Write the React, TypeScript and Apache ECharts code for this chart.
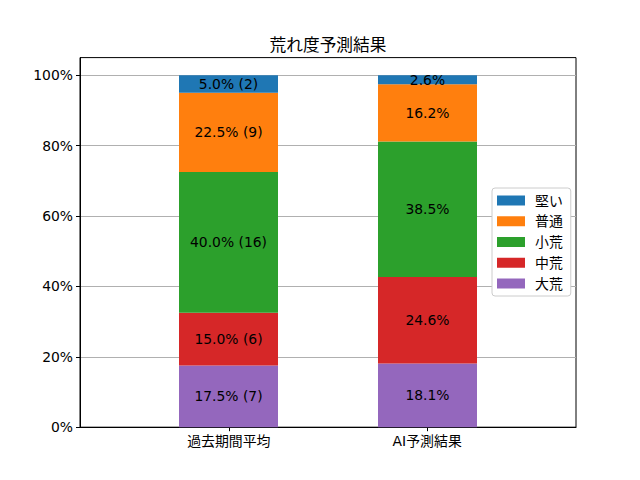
import React, { useEffect, useRef } from "react";
import * as echarts from "echarts";

const categories = ["過去期間平均", "AI予測結果"];
const levels = ["大荒", "中荒", "小荒", "普通", "堅い"];
const pastPct = [17.5, 15.0, 40.0, 22.5, 5.0];
const pastCount = [7, 6, 16, 9, 2];
const aiPct = [18.1, 24.6, 38.5, 16.2, 2.6];
const levelColors = ["#9467bd", "#d62728", "#2ca02c", "#ff7f0e", "#1f77b4"];
const yTicks = [0, 20, 40, 60, 80, 100];
const xTicks = [0, 1];

const FONT = "'DejaVu Sans', 'Noto Sans CJK JP', sans-serif";

export default function App() {
  const ref = useRef<HTMLDivElement>(null);

  useEffect(() => {
    if (!ref.current) return;
    const chart = echarts.init(ref.current, null, { renderer: "svg" });

    const series = levels.map((name, i) => ({
      name,
      type: "bar",
      stack: "total",
      xAxisIndex: 1,
      yAxisIndex: 1,
      barWidth: 99,
      itemStyle: { color: levelColors[i] },
      data: [pastPct[i], aiPct[i]],
      label: {
        show: true,
        position: "inside",
        color: "#000",
        fontFamily: FONT,
        fontSize: 13.9,
        formatter: (p: any) => {
          if (p.dataIndex === 0) {
            return `${pastPct[i].toFixed(1)}% (${pastCount[i]})`;
          }
          return `${aiPct[i].toFixed(1)}%`;
        },
      },
      emphasis: { disabled: true },
    }));

    chart.setOption({
      animation: false,
      textStyle: { fontFamily: FONT },
      grid: [
        {
          left: 80,
          right: 64,
          top: 57.6,
          bottom: 52.8,
          show: true,
          borderColor: "#000",
          borderWidth: 1,
          backgroundColor: "transparent",
        },
        {
          left: 129,
          width: 398,
          top: 57.6,
          bottom: 52.8,
          show: false,
        },
      ],
      graphic: [
        {
          type: "text",
          x: 328,
          y: 44.5,
          style: {
            text: "荒れ度予測結果",
            fontFamily: FONT,
            fontSize: 16.7,
            fill: "#000",
            textAlign: "center",
            textVerticalAlign: "middle",
          },
          z: 100,
        },
      ],
      legend: {
        orient: "vertical",
        left: 492,
        top: 188,
        data: ["堅い", "普通", "小荒", "中荒", "大荒"],
        itemWidth: 28,
        itemHeight: 10,
        itemGap: 6.75,
        icon: "rect",
        padding: [5.5, 8, 5.5, 5],
        backgroundColor: "#fff",
        borderColor: "#cccccc",
        borderWidth: 1,
        borderRadius: 3,
        selectedMode: false,
        textStyle: {
          fontFamily: FONT,
          fontSize: 13.9,
          color: "#000",
          lineHeight: 14,
          padding: [0, 0, 0, 5],
        },
      },
      xAxis: [
        {
          type: "value",
          gridIndex: 0,
          min: -0.75,
          max: 1.75,
          splitLine: { show: false },
          axisLine: { show: true, onZero: false, lineStyle: { color: "#000", width: 1 } },
          axisTick: {
            show: true,
            length: 4,
            customValues: xTicks,
            lineStyle: { color: "#000" },
          },
          axisLabel: {
            customValues: xTicks,
            margin: 7,
            color: "#000",
            fontFamily: FONT,
            fontSize: 13.9,
            formatter: (v: number) => categories[Math.round(v)] ?? "",
          },
        },
        {
          type: "category",
          gridIndex: 1,
          data: categories,
          show: false,
        },
      ],
      yAxis: [
        {
          type: "value",
          gridIndex: 0,
          min: 0,
          max: 105,
          interval: 20,
          axisLine: { show: true, onZero: false, lineStyle: { color: "#000", width: 1 } },
          axisTick: {
            show: true,
            length: 4,
            customValues: yTicks,
            lineStyle: { color: "#000" },
          },
          axisLabel: {
            customValues: yTicks,
            margin: 7,
            color: "#000",
            fontFamily: FONT,
            fontSize: 13.9,
            formatter: (v: number) => `${v}%`,
          },
          splitLine: {
            show: true,
            lineStyle: { color: "#b0b0b0", width: 1 },
          },
        },
        {
          type: "value",
          gridIndex: 1,
          min: 0,
          max: 105,
          interval: 20,
          show: false,
          splitLine: { show: false },
        },
      ],
      series,
    });

    return () => chart.dispose();
  }, []);

  return (
    <div
      ref={ref}
      style={{ position: "fixed", left: 0, top: 0, width: 640, height: 480, background: "#fff" }}
    />
  );
}
